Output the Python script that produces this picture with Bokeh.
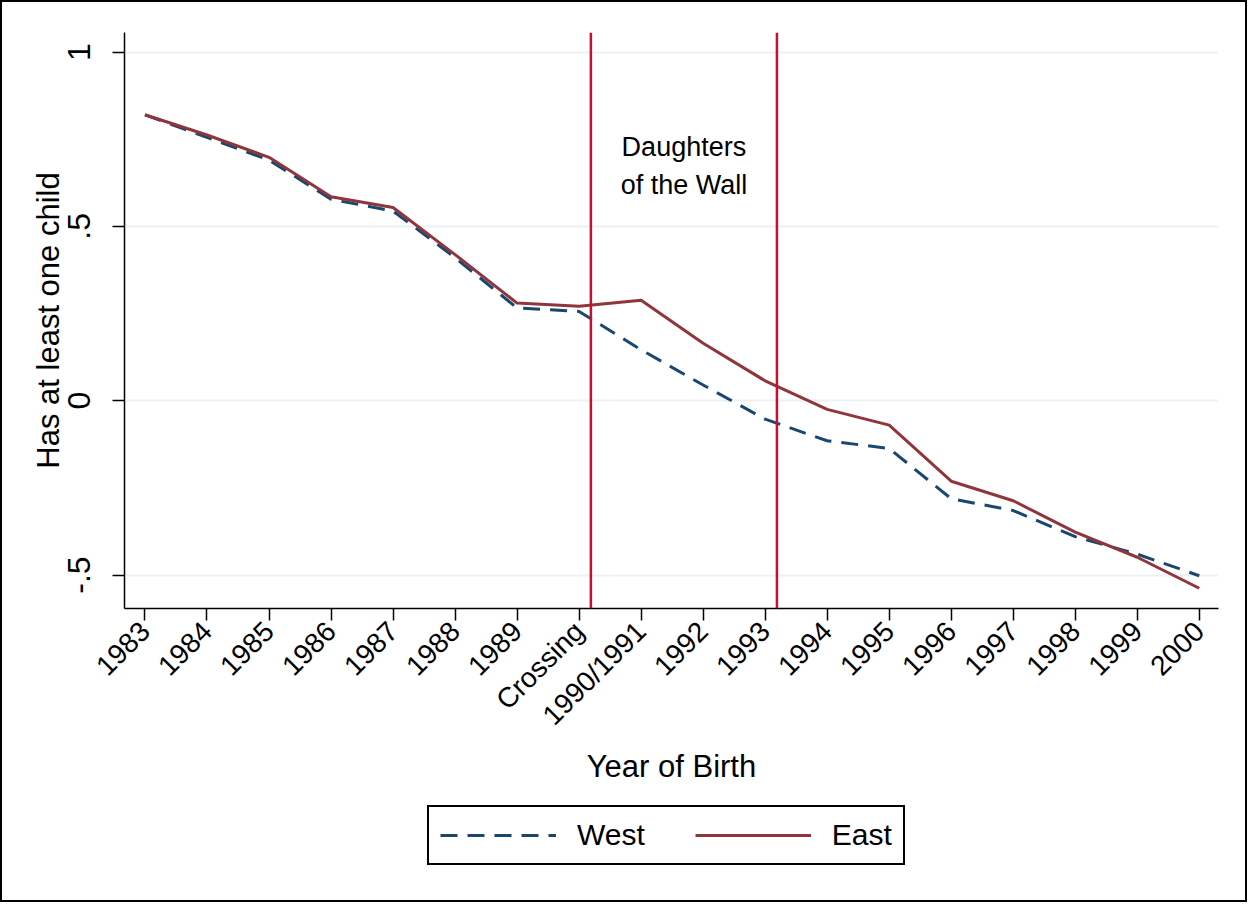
import math
from bokeh.plotting import figure
from bokeh.layouts import column
from bokeh.models import (Range1d, FixedTicker, CustomJSTickFormatter, Span, Label,
                          Legend, LegendItem, ColumnDataSource)
from bokeh.embed import file_html
from bokeh.resources import INLINE

# ---- data ----
years = ["1983", "1984", "1985", "1986", "1987", "1988", "1989", "Crossing",
         "1990/1991", "1992", "1993", "1994", "1995", "1996", "1997", "1998",
         "1999", "2000"]
west = [0.820, 0.755, 0.690, 0.578, 0.544, 0.410, 0.266, 0.256, 0.146, 0.045,
        -0.053, -0.115, -0.137, -0.281, -0.315, -0.390, -0.440, -0.502]
east = [0.820, 0.762, 0.698, 0.585, 0.554, 0.419, 0.280, 0.271, 0.288, 0.165,
        0.057, -0.025, -0.070, -0.231, -0.287, -0.377, -0.449, -0.538]
wall_bounds = [7.19, 10.19]
y_ticks = [-0.5, 0, 0.5, 1]
annotation_lines = ["Daughters", "of the Wall"]
series_names = ["West", "East"]

FONT = "Liberation Sans"
NAVY = "#1A476F"
MAROON = "#90353B"
CRIMSON = "#C8102E"
W = 1247

xs = list(range(len(years)))
src = ColumnDataSource(dict(x=xs, west=west, east=east))

p = figure(width=W, height=790, output_backend="svg", toolbar_location=None,
           x_range=Range1d(-0.33, 17.31), y_range=Range1d(-0.596, 1.056),
           min_border_left=122, min_border_right=31, min_border_top=30,
           min_border_bottom=184)
p.outline_line_color = None
p.background_fill_color = "white"
p.border_fill_color = "white"
p.styles = {"border-left": "2px solid black", "border-right": "2px solid black",
            "border-top": "2px solid black", "box-sizing": "border-box"}

# grid
p.xgrid.visible = False
p.ygrid.ticker = FixedTicker(ticks=y_ticks)
p.ygrid.grid_line_color = "#EAF2F3"
p.ygrid.grid_line_width = 2

# x axis
p.xaxis.ticker = FixedTicker(ticks=xs)
p.xaxis.major_label_overrides = {i: years[i] for i in xs}
p.xaxis.major_label_orientation = math.pi / 4
p.xaxis.axis_label = "Year of Birth"
p.xaxis.minor_tick_line_color = None

# y axis
p.yaxis.ticker = FixedTicker(ticks=y_ticks)
p.yaxis.formatter = CustomJSTickFormatter(
    code="if (tick == 0) { return '0'; } return String(tick).replace('0.', '.');")
p.yaxis.major_label_orientation = "vertical"
p.yaxis.axis_label = "Has at least one child"
p.yaxis.minor_tick_line_color = None

for ax in (p.xaxis[0], p.yaxis[0]):
    ax.axis_line_color = "black"
    ax.axis_line_width = 1.5
    ax.major_tick_line_color = "black"
    ax.major_tick_line_width = 1.5
    ax.major_tick_out = 12
    ax.major_tick_in = 0
    ax.major_label_text_font = FONT
    ax.major_label_text_color = "black"
    ax.axis_label_text_font = FONT
    ax.axis_label_text_font_size = "31px"
    ax.axis_label_text_font_style = "normal"
    ax.axis_label_text_color = "black"

p.xaxis.major_label_text_font_size = "28px"
p.yaxis.major_label_text_font_size = "32px"
p.xaxis.major_label_standoff = 6
p.xaxis.axis_label_standoff = 4
p.yaxis.major_label_standoff = 22
p.yaxis.axis_label_standoff = 0

# lines
p.line("x", "west", source=src, line_color=NAVY, line_width=3, line_dash="17 10")
p.line("x", "east", source=src, line_color=MAROON, line_width=3)

# wall lines
for b in wall_bounds:
    p.add_layout(Span(location=b, dimension="height", line_color=CRIMSON,
                      line_width=2.5))

mid = sum(wall_bounds) / 2
for txt, yv in zip(annotation_lines, [0.729, 0.619]):
    p.add_layout(Label(x=mid, y=yv, text=txt, text_align="center",
                       text_baseline="middle", text_font=FONT,
                       text_font_size="27px", text_color="black"))

# ---- legend strip ----
lg = figure(width=W, height=112, output_backend="svg", toolbar_location=None,
            x_range=Range1d(0, 1), y_range=Range1d(0, 1),
            x_axis_location=None, y_axis_location=None,
            min_border_left=0, min_border_right=0, min_border_top=0,
            min_border_bottom=0)
lg.outline_line_color = None
lg.xgrid.visible = False
lg.ygrid.visible = False
lg.styles = {"border-left": "2px solid black", "border-right": "2px solid black",
             "border-bottom": "2px solid black", "box-sizing": "border-box"}
rw = lg.line([-5, -4], [-5, -4], line_color=NAVY, line_width=3, line_dash="17 10")
re_ = lg.line([-5, -4], [-5, -4], line_color=MAROON, line_width=3)

legend = Legend(items=[LegendItem(label=series_names[0], renderers=[rw]),
                       LegendItem(label=series_names[1], renderers=[re_])],
                orientation="horizontal", location=(303, 37))
legend.label_text_font = FONT
legend.label_text_font_size = "30px"
legend.label_text_color = "black"
legend.glyph_width = 116
legend.glyph_height = 20
legend.label_standoff = 21
legend.spacing = 50
legend.padding = 11
legend.border_line_color = "black"
legend.border_line_width = 2
legend.border_line_alpha = 1
legend.background_fill_alpha = 1
legend.margin = 0
lg.add_layout(legend, "center")

layout = column(p, lg, spacing=0)
open("out.html", "w").write(file_html(layout, INLINE))
